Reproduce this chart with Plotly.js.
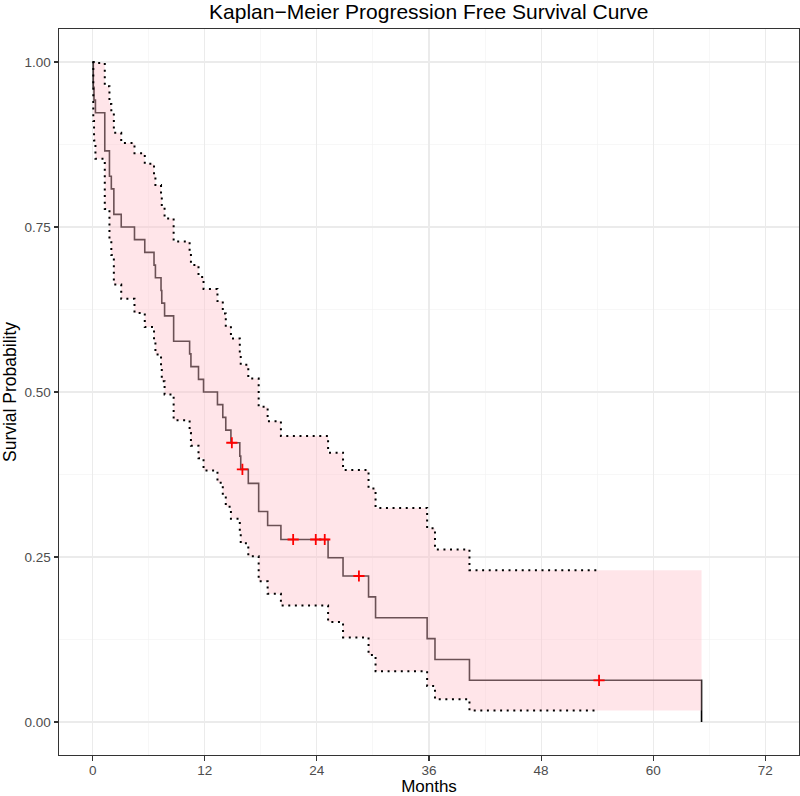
<!DOCTYPE html>
<html>
<head>
<meta charset="utf-8">
<script src="https://cdn.plot.ly/plotly-3.0.1.min.js"></script>
<style>html,body{margin:0;padding:0;background:#fff;}#chart{width:800px;height:796px;}</style>
</head>
<body>
<div id="chart"></div>
<script>
// Event times (months) and Kaplan-Meier estimates
var eventTime = [0, 0.07, 0.15, 0.3, 1.3, 1.8, 2.0, 2.27, 3.06, 4.48, 5.58, 6.57, 6.72, 7.32, 7.4, 7.7, 8.67, 10.38, 10.52, 11.33, 11.87, 13.36, 13.93, 14.25, 14.8, 15.75, 15.85, 16.66, 17.77, 18.73, 20.15, 25.2, 26.8, 29.53, 30.28, 35.8, 36.64, 40.33, 65.17];
var survProb = [1, 0.9615, 0.9423, 0.9231, 0.8654, 0.8269, 0.8077, 0.7692, 0.75, 0.7308, 0.7115, 0.6923, 0.6731, 0.6538, 0.6346, 0.6154, 0.5769, 0.5577, 0.5385, 0.5192, 0.5, 0.4808, 0.4615, 0.4423, 0.4231, 0.4029, 0.3828, 0.3615, 0.319, 0.2977, 0.2765, 0.2488, 0.2212, 0.1896, 0.158, 0.1264, 0.0948, 0.0632, 0];
var upperCI = [1, 1, 1, 0.9984, 0.9633, 0.9364, 0.9223, 0.8927, 0.8774, 0.8619, 0.8459, 0.8298, 0.8135, 0.7968, 0.7799, 0.7629, 0.7281, 0.7104, 0.6926, 0.6744, 0.6562, 0.6377, 0.6190, 0.6002, 0.5811, 0.5613, 0.5413, 0.5203, 0.4775, 0.4556, 0.4334, 0.4081, 0.3819, 0.3539, 0.3244, 0.2935, 0.2615, 0.2301, null];
var lowerCI = [1, 0.9106, 0.8810, 0.8534, 0.7774, 0.7302, 0.7074, 0.6628, 0.6411, 0.6197, 0.5984, 0.5776, 0.5569, 0.5365, 0.5163, 0.4964, 0.4571, 0.4378, 0.4187, 0.3997, 0.3810, 0.3625, 0.3441, 0.3260, 0.3080, 0.2892, 0.2707, 0.2512, 0.2131, 0.1945, 0.1764, 0.1517, 0.1281, 0.1016, 0.0769, 0.0544, 0.0344, 0.01736, null];
// Censored observations
var censorTime = [14.9, 16.03, 21.46, 23.88, 24.84, 28.5, 54.2];
var censorSurv = [0.4231, 0.3828, 0.2765, 0.2765, 0.2765, 0.2212, 0.0632];
// Axis ticks
var xTicks = [0, 12, 24, 36, 48, 60, 72];
var yTicks = [0, 0.25, 0.5, 0.75, 1];
var yTickText = ['0.00', '0.25', '0.50', '0.75', '1.00'];

// Build step polygon for the confidence ribbon
var n = eventTime.length;
var lastCI = n - 2; // last index with defined CI
var ribX = [], ribY = [];
for (var i = 0; i <= lastCI; i++) {
  ribX.push(eventTime[i]); ribY.push(upperCI[i]);
  ribX.push(eventTime[i + 1]); ribY.push(upperCI[i]);
}
for (var j = lastCI; j >= 0; j--) {
  ribX.push(eventTime[j + 1]); ribY.push(lowerCI[j]);
  ribX.push(eventTime[j]); ribY.push(lowerCI[j]);
}
// CI dotted lines end at the last censored time
var lastCensor = censorTime[censorTime.length - 1];
var ciX = eventTime.slice(0, lastCI + 1).concat([lastCensor]);
var ciU = upperCI.slice(0, lastCI + 1).concat([upperCI[lastCI]]);
var ciL = lowerCI.slice(0, lastCI + 1).concat([lowerCI[lastCI]]);

var traces = [
  {x: eventTime, y: survProb, type: 'scatter', mode: 'lines', line: {shape: 'hv', color: '#000000', width: 1.6}, hoverinfo: 'skip'},
  {x: ribX, y: ribY, type: 'scatter', mode: 'lines', fill: 'toself', fillcolor: 'rgba(255,192,203,0.42)', line: {width: 0, color: 'rgba(0,0,0,0)'}, hoverinfo: 'skip'},
  {x: ciX, y: ciU, type: 'scatter', mode: 'lines', line: {shape: 'hv', color: '#000000', width: 2, dash: '2px,4.6px'}, hoverinfo: 'skip'},
  {x: ciX, y: ciL, type: 'scatter', mode: 'lines', line: {shape: 'hv', color: '#000000', width: 2, dash: '2px,4.6px'}, hoverinfo: 'skip'},
  {x: censorTime, y: censorSurv, type: 'scatter', mode: 'markers', marker: {symbol: 'cross-thin', size: 8, color: '#ff0000', line: {color: '#ff0000', width: 1.8}}, hoverinfo: 'skip'}
];

var font = 'Liberation Sans, Arial, sans-serif';
var layout = {
  width: 800, height: 796,
  margin: {l: 59, r: 1, t: 29, b: 41},
  paper_bgcolor: '#ffffff', plot_bgcolor: '#ffffff',
  showlegend: false,
  font: {family: font, color: '#000000'},
  title: {text: 'Kaplan\u2212Meier Progression Free Survival Curve', font: {family: font, size: 21, color: '#000000'}, x: 0.536, xanchor: 'center', y: 0.985, yref: 'container', yanchor: 'middle'},
  xaxis: {
    range: [-3.6, 75.6], tickvals: xTicks, ticktext: xTicks.map(String),
    showgrid: true, gridcolor: '#ebebeb', gridwidth: 1.1, zeroline: false,
    minor: {tickvals: [6, 18, 30, 42, 54, 66], showgrid: true, gridcolor: '#f2f2f2', gridwidth: 0.6},
    showline: true, mirror: true, linecolor: '#333333', linewidth: 1,
    ticks: 'outside', ticklen: 4.5, tickcolor: '#333333', tickwidth: 1.1,
    ticklabelstandoff: -2,
    tickfont: {family: font, size: 13.5, color: '#4d4d4d'},
    title: {text: 'Months', font: {family: font, size: 17, color: '#000000'}, standoff: 6}
  },
  yaxis: {
    range: [-0.05, 1.05], tickvals: yTicks, ticktext: yTickText,
    showgrid: true, gridcolor: '#ebebeb', gridwidth: 1.1, zeroline: false,
    minor: {tickvals: [0.125, 0.375, 0.625, 0.875], showgrid: true, gridcolor: '#f2f2f2', gridwidth: 0.6},
    showline: true, mirror: true, linecolor: '#333333', linewidth: 1,
    ticks: 'outside', ticklen: 4.5, tickcolor: '#333333', tickwidth: 1.1,
    tickfont: {family: font, size: 13.5, color: '#4d4d4d'},
    title: {text: 'Survial Probability', font: {family: font, size: 17.5, color: '#000000'}, standoff: 5}
  }
};
Plotly.newPlot('chart', traces, layout, {displayModeBar: false, staticPlot: true});
</script>
</body>
</html>
